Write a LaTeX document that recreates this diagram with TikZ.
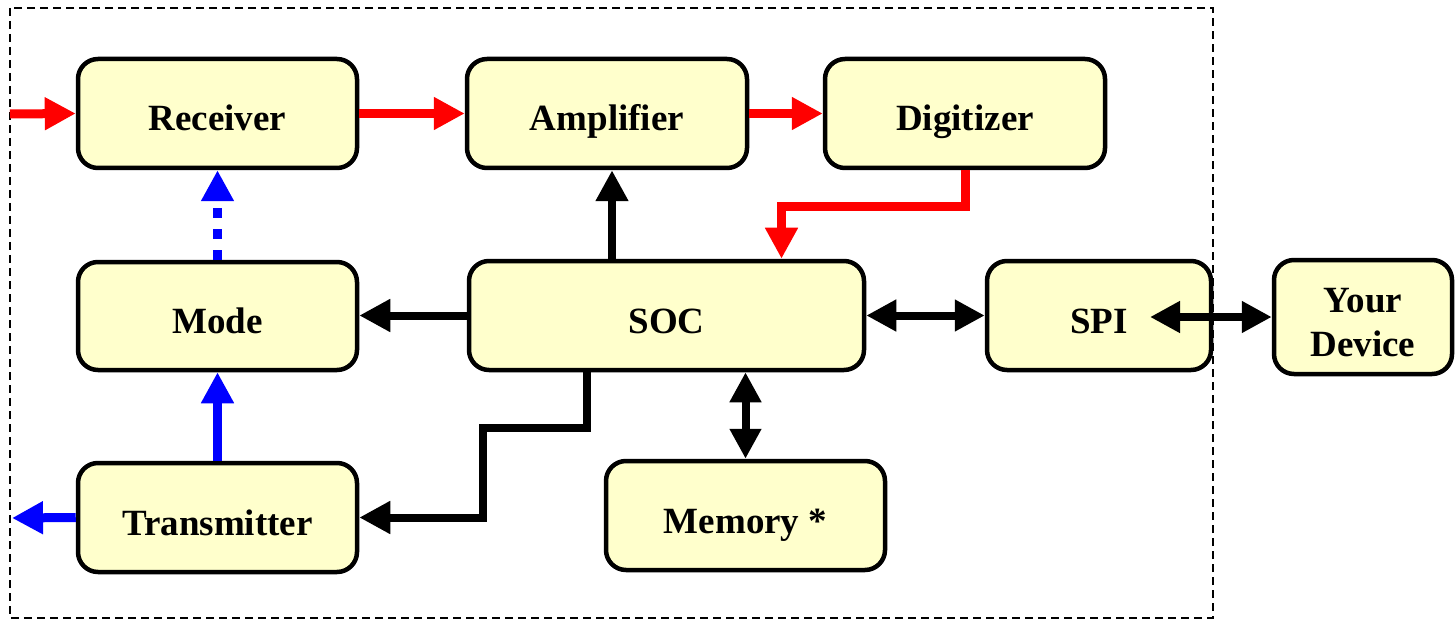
\documentclass[tikz,border=0pt]{standalone}
\usepackage{fontspec}
\setmainfont{Liberation Serif}
\usetikzlibrary{arrows.meta}
\definecolor{boxfill}{HTML}{FFFFCC}
\definecolor{myred}{HTML}{FF0000}
\definecolor{myblue}{HTML}{0000FF}
\tikzset{
  blk/.style={draw=black, line width=4.5pt, fill=boxfill, rounded corners=20pt,
    inner sep=0pt, align=center, font=\fontsize{37}{44}\selectfont\bfseries,
    text height=35pt, text depth=0pt},
  conn/.style={line width=9pt, -{Triangle[length=31pt,width=31pt]}},
  dconn/.style={draw=black, line width=8pt, {Triangle[length=30pt,width=30pt]}-{Triangle[length=30pt,width=30pt]}},
  redc/.style={conn, draw=myred},
  bluec/.style={conn, draw=myblue},
  blackc/.style={conn, draw=black, line width=8pt},
}
\begin{document}
\begin{tikzpicture}[x=1pt, y=-1pt]
\useasboundingbox (0,0) rectangle (1455,620);
\draw[line width=1.5pt, dash pattern=on 8pt off 5pt] (10,8) rectangle (1213,618);

\node[blk, minimum width=279pt, minimum height=109pt] (rec) at (217.5,113.5) {Receiver};
\node[blk, minimum width=280pt, minimum height=109pt] (amp) at (607,113.5) {Amplifier};
\node[blk, minimum width=280pt, minimum height=109pt] (dig) at (965,113.5) {Digitizer};
\node[blk, minimum width=279pt, minimum height=108pt] (mode) at (217.5,316) {Mode};
\node[blk, minimum width=395pt, minimum height=109pt] (soc) at (666.5,315.5) {SOC};
\node[blk, minimum width=224pt, minimum height=109pt] (spi) at (1099,315.5) {SPI};
\node[blk, text height=, text depth=, minimum width=178pt, minimum height=114pt] (dev) at (1363,317) {\rule{0pt}{35pt}Your\\Device};
\node[blk, minimum width=279pt, minimum height=109pt] (tx) at (217.5,517.5) {Transmitter};
\node[blk, minimum width=279pt, minimum height=109pt] (mem) at (745.5,515.5) {Memory *};

\coordinate (in) at (10,114);
\coordinate (out) at (12,518);
\coordinate (xamp) at (612,0);
\coordinate (spiin) at (1150,317);

% red signal path
\draw[redc] (in) -- (rec.west);
\draw[redc] (rec.east) -- (amp.west);
\draw[redc] (amp.east) -- (dig.west);
\draw[redc] (dig.south) |- ([xshift=115pt,yshift=52pt]soc.north) -- ([xshift=115pt]soc.north);

% blue
\draw[bluec, dash pattern=on 10pt off 11pt] (mode.north) -- (rec.south);
\draw[bluec] (tx.north) -- (mode.south);
\draw[bluec] (tx.west) -- (out);

% black
\draw[blackc] (soc.north -| xamp) -- (amp.south -| xamp);
\draw[blackc] (soc.west) -- (soc.west -| mode.east);
\draw[blackc] ([xshift=-80pt]soc.south) -- ++(0,56) -- ++(-104,0) |- (tx.east);
\draw[dconn] (mem.north |- soc.south) -- (mem.north);
\draw[dconn] (soc.east) -- (spi.west);
\draw[dconn] (spiin) -- (spiin -| dev.west);
\end{tikzpicture}
\end{document}
